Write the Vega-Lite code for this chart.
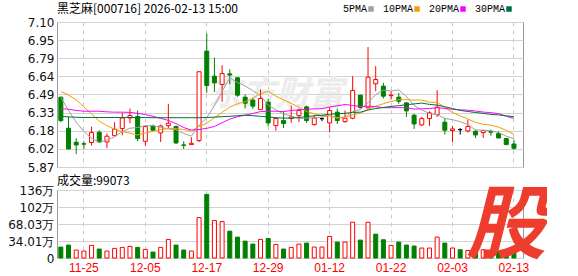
{
  "$schema": "https://vega.github.io/schema/vega-lite/v6.json",
  "background": "white",
  "padding": {"left": 0, "top": 2, "right": 0, "bottom": 0},
  "spacing": 0,
  "config": {
    "view": {"stroke": "#999999", "strokeWidth": 1},
    "axis": {"domain": false, "ticks": false, "labelFont": "DejaVu Sans", "labelFontSize": 12, "labelColor": "#111111", "gridColor": "#d2d2d2", "gridWidth": 1, "title": null, "labelOverlap": false}
  },
  "resolve": {"legend": {"color": "independent"}},
  "datasets": {
    "k": [
      {"d":"11-20","o":6.462,"h":6.468,"l":6.250,"c":6.264,"v":218790,"dir":"down","5PMA":6.46,"10PMA":6.51,"20PMA":6.365,"30PMA":6.30},
      {"d":"11-21","o":6.199,"h":6.295,"l":6.020,"c":6.023,"v":258570,"dir":"down","5PMA":6.35,"10PMA":6.48,"20PMA":6.36,"30PMA":6.295},
      {"d":"11-24","o":6.080,"h":6.114,"l":5.980,"c":6.057,"v":159120,"dir":"up","5PMA":6.25,"10PMA":6.44,"20PMA":6.35,"30PMA":6.292},
      {"d":"11-25","o":6.067,"h":6.088,"l":6.023,"c":6.064,"v":139230,"dir":"up","5PMA":6.17,"10PMA":6.38,"20PMA":6.343,"30PMA":6.29},
      {"d":"11-26","o":6.077,"h":6.213,"l":6.051,"c":6.162,"v":251940,"dir":"up","5PMA":6.114,"10PMA":6.32,"20PMA":6.343,"30PMA":6.29},
      {"d":"11-27","o":6.165,"h":6.182,"l":6.074,"c":6.082,"v":179010,"dir":"down","5PMA":6.078,"10PMA":6.26,"20PMA":6.343,"30PMA":6.29},
      {"d":"11-28","o":6.082,"h":6.153,"l":6.031,"c":6.131,"v":139230,"dir":"up","5PMA":6.099,"10PMA":6.22,"20PMA":6.338,"30PMA":6.29},
      {"d":"12-01","o":6.136,"h":6.250,"l":6.131,"c":6.190,"v":192270,"dir":"up","5PMA":6.126,"10PMA":6.19,"20PMA":6.335,"30PMA":6.29},
      {"d":"12-02","o":6.196,"h":6.329,"l":6.139,"c":6.286,"v":212160,"dir":"up","5PMA":6.170,"10PMA":6.17,"20PMA":6.335,"30PMA":6.29},
      {"d":"12-03","o":6.286,"h":6.366,"l":6.241,"c":6.306,"v":232050,"dir":"up","5PMA":6.199,"10PMA":6.157,"20PMA":6.333,"30PMA":6.29},
      {"d":"12-04","o":6.298,"h":6.349,"l":6.088,"c":6.111,"v":212160,"dir":"down","5PMA":6.205,"10PMA":6.141,"20PMA":6.325,"30PMA":6.29},
      {"d":"12-05","o":6.088,"h":6.213,"l":6.051,"c":6.213,"v":172380,"dir":"up","5PMA":6.221,"10PMA":6.160,"20PMA":6.315,"30PMA":6.29},
      {"d":"12-08","o":6.218,"h":6.229,"l":6.173,"c":6.182,"v":119340,"dir":"down","5PMA":6.220,"10PMA":6.173,"20PMA":6.300,"30PMA":6.288},
      {"d":"12-09","o":6.159,"h":6.230,"l":6.082,"c":6.218,"v":212160,"dir":"up","5PMA":6.206,"10PMA":6.188,"20PMA":6.283,"30PMA":6.288},
      {"d":"12-10","o":6.221,"h":6.406,"l":6.200,"c":6.241,"v":371280,"dir":"up","5PMA":6.193,"10PMA":6.196,"20PMA":6.265,"30PMA":6.288},
      {"d":"12-11","o":6.213,"h":6.221,"l":6.065,"c":6.074,"v":258570,"dir":"down","5PMA":6.186,"10PMA":6.195,"20PMA":6.238,"30PMA":6.288},
      {"d":"12-12","o":6.057,"h":6.088,"l":6.023,"c":6.054,"v":159120,"dir":"down","5PMA":6.154,"10PMA":6.188,"20PMA":6.205,"30PMA":6.288},
      {"d":"12-15","o":6.060,"h":6.122,"l":6.057,"c":6.071,"v":139230,"dir":"up","5PMA":6.132,"10PMA":6.176,"20PMA":6.183,"30PMA":6.288},
      {"d":"12-16","o":6.094,"h":6.678,"l":6.082,"c":6.678,"v":808860,"dir":"up","5PMA":6.224,"10PMA":6.215,"20PMA":6.188,"30PMA":6.288},
      {"d":"12-17","o":6.853,"h":7.001,"l":6.499,"c":6.561,"v":1272960,"dir":"down","5PMA":6.288,"10PMA":6.240,"20PMA":6.198,"30PMA":6.29},
      {"d":"12-18","o":6.641,"h":6.797,"l":6.508,"c":6.584,"v":749190,"dir":"up","5PMA":6.390,"10PMA":6.288,"20PMA":6.214,"30PMA":6.293},
      {"d":"12-19","o":6.570,"h":6.734,"l":6.423,"c":6.663,"v":729300,"dir":"up","5PMA":6.511,"10PMA":6.333,"20PMA":6.246,"30PMA":6.297},
      {"d":"12-22","o":6.660,"h":6.698,"l":6.570,"c":6.650,"v":537030,"dir":"down","5PMA":6.627,"10PMA":6.379,"20PMA":6.276,"30PMA":6.30},
      {"d":"12-23","o":6.627,"h":6.630,"l":6.465,"c":6.479,"v":417690,"dir":"down","5PMA":6.587,"10PMA":6.406,"20PMA":6.297,"30PMA":6.305},
      {"d":"12-24","o":6.462,"h":6.485,"l":6.366,"c":6.411,"v":338130,"dir":"down","5PMA":6.557,"10PMA":6.423,"20PMA":6.309,"30PMA":6.31},
      {"d":"12-25","o":6.437,"h":6.457,"l":6.363,"c":6.386,"v":278460,"dir":"down","5PMA":6.518,"10PMA":6.454,"20PMA":6.324,"30PMA":6.305},
      {"d":"12-26","o":6.357,"h":6.527,"l":6.354,"c":6.451,"v":371280,"dir":"up","5PMA":6.475,"10PMA":6.493,"20PMA":6.340,"30PMA":6.30},
      {"d":"12-29","o":6.420,"h":6.448,"l":6.216,"c":6.244,"v":391170,"dir":"down","5PMA":6.394,"10PMA":6.511,"20PMA":6.343,"30PMA":6.295},
      {"d":"12-30","o":6.221,"h":6.292,"l":6.179,"c":6.281,"v":271830,"dir":"up","5PMA":6.355,"10PMA":6.471,"20PMA":6.343,"30PMA":6.288},
      {"d":"12-31","o":6.264,"h":6.338,"l":6.201,"c":6.238,"v":179010,"dir":"down","5PMA":6.320,"10PMA":6.439,"20PMA":6.340,"30PMA":6.285},
      {"d":"01-05","o":6.281,"h":6.391,"l":6.244,"c":6.295,"v":212160,"dir":"up","5PMA":6.302,"10PMA":6.410,"20PMA":6.349,"30PMA":6.285},
      {"d":"01-06","o":6.306,"h":6.366,"l":6.252,"c":6.349,"v":278460,"dir":"up","5PMA":6.281,"10PMA":6.378,"20PMA":6.356,"30PMA":6.290},
      {"d":"01-07","o":6.380,"h":6.391,"l":6.244,"c":6.264,"v":298350,"dir":"down","5PMA":6.285,"10PMA":6.340,"20PMA":6.360,"30PMA":6.297},
      {"d":"01-08","o":6.230,"h":6.309,"l":6.221,"c":6.286,"v":218790,"dir":"up","5PMA":6.286,"10PMA":6.321,"20PMA":6.363,"30PMA":6.305},
      {"d":"01-09","o":6.280,"h":6.292,"l":6.258,"c":6.280,"v":218790,"dir":"up","5PMA":6.295,"10PMA":6.307,"20PMA":6.365,"30PMA":6.309},
      {"d":"01-12","o":6.244,"h":6.377,"l":6.165,"c":6.349,"v":430950,"dir":"up","5PMA":6.306,"10PMA":6.304,"20PMA":6.379,"30PMA":6.318},
      {"d":"01-13","o":6.335,"h":6.366,"l":6.235,"c":6.264,"v":318240,"dir":"down","5PMA":6.289,"10PMA":6.285,"20PMA":6.389,"30PMA":6.322},
      {"d":"01-14","o":6.255,"h":6.349,"l":6.247,"c":6.284,"v":318240,"dir":"up","5PMA":6.293,"10PMA":6.289,"20PMA":6.400,"30PMA":6.325},
      {"d":"01-15","o":6.284,"h":6.641,"l":6.275,"c":6.519,"v":716040,"dir":"up","5PMA":6.339,"10PMA":6.313,"20PMA":6.392,"30PMA":6.333},
      {"d":"01-16","o":6.479,"h":6.485,"l":6.366,"c":6.374,"v":358020,"dir":"down","5PMA":6.358,"10PMA":6.326,"20PMA":6.383,"30PMA":6.335},
      {"d":"01-19","o":6.372,"h":6.887,"l":6.366,"c":6.632,"v":716040,"dir":"up","5PMA":6.415,"10PMA":6.360,"20PMA":6.385,"30PMA":6.353},
      {"d":"01-20","o":6.576,"h":6.726,"l":6.513,"c":6.612,"v":477360,"dir":"down","5PMA":6.484,"10PMA":6.386,"20PMA":6.382,"30PMA":6.366},
      {"d":"01-21","o":6.556,"h":6.584,"l":6.451,"c":6.471,"v":364650,"dir":"down","5PMA":6.522,"10PMA":6.407,"20PMA":6.373,"30PMA":6.375},
      {"d":"01-22","o":6.475,"h":6.513,"l":6.442,"c":6.479,"v":251940,"dir":"up","5PMA":6.514,"10PMA":6.426,"20PMA":6.373,"30PMA":6.384},
      {"d":"01-23","o":6.462,"h":6.499,"l":6.406,"c":6.428,"v":318240,"dir":"down","5PMA":6.524,"10PMA":6.441,"20PMA":6.374,"30PMA":6.390},
      {"d":"01-26","o":6.414,"h":6.420,"l":6.295,"c":6.346,"v":258570,"dir":"down","5PMA":6.467,"10PMA":6.441,"20PMA":6.372,"30PMA":6.399},
      {"d":"01-27","o":6.309,"h":6.320,"l":6.193,"c":6.235,"v":238680,"dir":"down","5PMA":6.392,"10PMA":6.438,"20PMA":6.362,"30PMA":6.405},
      {"d":"01-28","o":6.227,"h":6.295,"l":6.218,"c":6.281,"v":198900,"dir":"up","5PMA":6.354,"10PMA":6.438,"20PMA":6.363,"30PMA":6.412},
      {"d":"01-29","o":6.281,"h":6.343,"l":6.218,"c":6.329,"v":198900,"dir":"up","5PMA":6.324,"10PMA":6.419,"20PMA":6.366,"30PMA":6.401},
      {"d":"01-30","o":6.315,"h":6.522,"l":6.295,"c":6.377,"v":417690,"dir":"up","5PMA":6.314,"10PMA":6.419,"20PMA":6.373,"30PMA":6.395},
      {"d":"02-02","o":6.250,"h":6.286,"l":6.145,"c":6.182,"v":298350,"dir":"down","5PMA":6.281,"10PMA":6.374,"20PMA":6.367,"30PMA":6.381},
      {"d":"02-03","o":6.179,"h":6.218,"l":6.082,"c":6.193,"v":198900,"dir":"up","5PMA":6.272,"10PMA":6.332,"20PMA":6.359,"30PMA":6.366},
      {"d":"02-04","o":6.187,"h":6.201,"l":6.145,"c":6.187,"v":165750,"dir":"down","5PMA":6.254,"10PMA":6.304,"20PMA":6.355,"30PMA":6.350},
      {"d":"02-05","o":6.176,"h":6.272,"l":6.162,"c":6.213,"v":150000,"dir":"up","5PMA":6.230,"10PMA":6.277,"20PMA":6.352,"30PMA":6.341},
      {"d":"02-06","o":6.173,"h":6.187,"l":6.116,"c":6.142,"v":170000,"dir":"down","5PMA":6.183,"10PMA":6.249,"20PMA":6.345,"30PMA":6.332},
      {"d":"02-09","o":6.162,"h":6.179,"l":6.116,"c":6.179,"v":165750,"dir":"up","5PMA":6.183,"10PMA":6.232,"20PMA":6.336,"30PMA":6.325},
      {"d":"02-10","o":6.170,"h":6.187,"l":6.136,"c":6.165,"v":120000,"dir":"down","5PMA":6.177,"10PMA":6.225,"20PMA":6.331,"30PMA":6.316},
      {"d":"02-11","o":6.153,"h":6.173,"l":6.116,"c":6.116,"v":140000,"dir":"down","5PMA":6.163,"10PMA":6.208,"20PMA":6.323,"30PMA":6.312},
      {"d":"02-12","o":6.111,"h":6.116,"l":6.060,"c":6.060,"v":165750,"dir":"down","5PMA":6.132,"10PMA":6.181,"20PMA":6.300,"30PMA":6.304},
      {"d":"02-13","o":6.065,"h":6.102,"l":6.017,"c":6.029,"v":99073,"dir":"down","5PMA":6.110,"10PMA":6.147,"20PMA":6.283,"30PMA":6.297}
    ]
  },
  "vconcat": [
    {
      "width": 466,
      "height": 145,
      "title": {"text": "黑芝麻[000716] 2026-02-13 15:00", "anchor": "start", "frame": "group", "font": "Noto Sans CJK SC", "fontSize": 12, "fontWeight": "normal", "color": "#000000", "offset": -12},
      "data": {"name": "k"},
      "encoding": {
        "x": {
          "field": "d", "type": "ordinal",
          "scale": {
            "domain": ["11-20","11-21","11-24","11-25","11-26","11-27","11-28","12-01","12-02","12-03","12-04","12-05","12-08","12-09","12-10","12-11","12-12","12-15","12-16","12-17","12-18","12-19","12-22","12-23","12-24","12-25","12-26","12-29","12-30","12-31","01-05","01-06","01-07","01-08","01-09","01-12","01-13","01-14","01-15","01-16","01-19","01-20","01-21","01-22","01-23","01-26","01-27","01-28","01-29","01-30","02-02","02-03","02-04","02-05","02-06","02-09","02-10","02-11","02-12","02-13"],
            "paddingInner": 0, "paddingOuter": 0.34, "align": 0
          },
          "axis": {"labels": false, "values": ["11-25","12-05","12-17","12-29","01-12","01-22","02-03","02-13"], "grid": true, "gridDash": [4, 4], "gridColor": "#c8c8c8", "bandPosition": 0.5}
        }
      },
      "layer": [
        {
          "data": {"values": [{"t": "东方财富"}]},
          "mark": {"type": "text", "font": "Noto Sans CJK SC", "fontSize": 34, "fontWeight": "bold", "fontStyle": "italic", "color": "#ececec", "align": "center", "baseline": "middle"},
          "encoding": {
            "x": {"datum": "12-30", "type": "ordinal"},
            "y": {"datum": 6.48, "type": "quantitative"},
            "text": {"field": "t"}
          }
        },
        {
          "mark": {"type": "rule", "strokeWidth": 1},
          "encoding": {
            "y": {"field": "l", "type": "quantitative", "scale": {"domain": [5.87, 7.10], "nice": false, "zero": false},
              "axis": {"values": [5.87, 6.0238, 6.1775, 6.3313, 6.4851, 6.6388, 6.7925, 6.9463, 7.10], "tickCount": 50, "format": ".2f", "grid": true, "minExtent": 56, "maxExtent": 56, "labelPadding": 3, "labelOverlap": false, "labelBound": false, "labelFlush": false}},
            "y2": {"field": "h"},
            "color": {"condition": [{"test": "datum.c > datum.o", "value": "#ff0000"}, {"test": "datum.c < datum.o", "value": "#008000"}], "value": "#000000"}
          }
        },
        {
          "mark": {"type": "bar", "size": 4, "strokeWidth": 1},
          "encoding": {
            "y": {"field": "o", "type": "quantitative"},
            "y2": {"field": "c"},
            "fill": {"condition": {"test": "datum.c < datum.o", "value": "#008000"}, "value": "#ffffff"},
            "stroke": {"condition": [{"test": "datum.c > datum.o", "value": "#ff0000"}, {"test": "datum.c < datum.o", "value": "#008000"}], "value": "#000000"}
          }
        },
        {
          "transform": [{"fold": ["5PMA", "10PMA", "20PMA", "30PMA"], "as": ["ma", "val"]}],
          "mark": {"type": "line", "strokeWidth": 1},
          "encoding": {
            "y": {"field": "val", "type": "quantitative"},
            "color": {
              "field": "ma", "type": "nominal",
              "scale": {"domain": ["5PMA", "10PMA", "20PMA", "30PMA"], "range": ["#a0a0a0", "#f0a000", "#ff00ff", "#006f3a"]},
              "legend": {"orient": "none", "legendX": 309, "legendY": -18, "direction": "horizontal", "title": null, "symbolType": "square", "symbolSize": 30, "symbolStrokeWidth": 0, "labelFont": "Liberation Mono", "labelFontSize": 10, "labelColor": "#000000", "labelAlign": "right", "labelOffset": -9, "columnPadding": 8,
                "encode": {"symbols": {"update": {"fill": {"scale": "color", "field": "value"}, "shape": {"value": "square"}}}}}
            }
          }
        }
      ]
    },
    {
      "width": 466,
      "height": 68,
      "title": {"text": "成交量:99073", "anchor": "start", "frame": "group", "font": "Noto Sans CJK SC", "fontSize": 12, "fontWeight": "normal", "color": "#000000", "offset": -4},
      "data": {"name": "k"},
      "encoding": {
        "x": {
          "field": "d", "type": "ordinal",
          "scale": {
            "domain": ["11-20","11-21","11-24","11-25","11-26","11-27","11-28","12-01","12-02","12-03","12-04","12-05","12-08","12-09","12-10","12-11","12-12","12-15","12-16","12-17","12-18","12-19","12-22","12-23","12-24","12-25","12-26","12-29","12-30","12-31","01-05","01-06","01-07","01-08","01-09","01-12","01-13","01-14","01-15","01-16","01-19","01-20","01-21","01-22","01-23","01-26","01-27","01-28","01-29","01-30","02-02","02-03","02-04","02-05","02-06","02-09","02-10","02-11","02-12","02-13"],
            "paddingInner": 0, "paddingOuter": 0.34, "align": 0
          },
          "axis": {"labels": true, "labelAngle": 0, "labelColor": "#ff0000", "labelFont": "Liberation Sans", "labelFontSize": 12, "labelPadding": 4, "values": ["11-25","12-05","12-17","12-29","01-12","01-22","02-03","02-13"], "grid": true, "gridDash": [4, 4], "gridColor": "#c8c8c8", "bandPosition": 0.5}
        }
      },
      "layer": [
        {
          "mark": {"type": "bar", "size": 4, "strokeWidth": 1},
          "encoding": {
            "y": {"field": "v", "type": "quantitative", "scale": {"domain": [0, 1360600], "nice": false},
              "axis": {"values": [0, 340100, 680300, 1020400, 1360600], "tickCount": 50, "grid": true, "minExtent": 56, "maxExtent": 56, "labelPadding": 3, "labelOverlap": false, "labelBound": false, "labelFlush": false,
                "labelExpr": "datum.value == 0 ? '0' : datum.value < 1000000 ? format(datum.value / 10000, '.2f') + '万' : format(datum.value / 10000, '.0f') + '万'"}},
            "fill": {"condition": {"test": "datum.dir == 'down'", "value": "#008000"}, "value": "#ffffff"},
            "stroke": {"condition": {"test": "datum.dir == 'down'", "value": "#008000"}, "value": "#ff0000"}
          }
        },
        {
          "data": {"values": [{"t": "股"}]},
          "mark": {"type": "text", "font": "Noto Sans CJK SC", "fontSize": 80, "fontWeight": "bold", "fontStyle": "italic", "color": "#ee3d2c", "align": "center", "baseline": "middle"},
          "encoding": {
            "x": {"datum": "02-12", "type": "ordinal"},
            "y": {"datum": 600000, "type": "quantitative"},
            "text": {"field": "t"}
          }
        }
      ]
    }
  ]
}
